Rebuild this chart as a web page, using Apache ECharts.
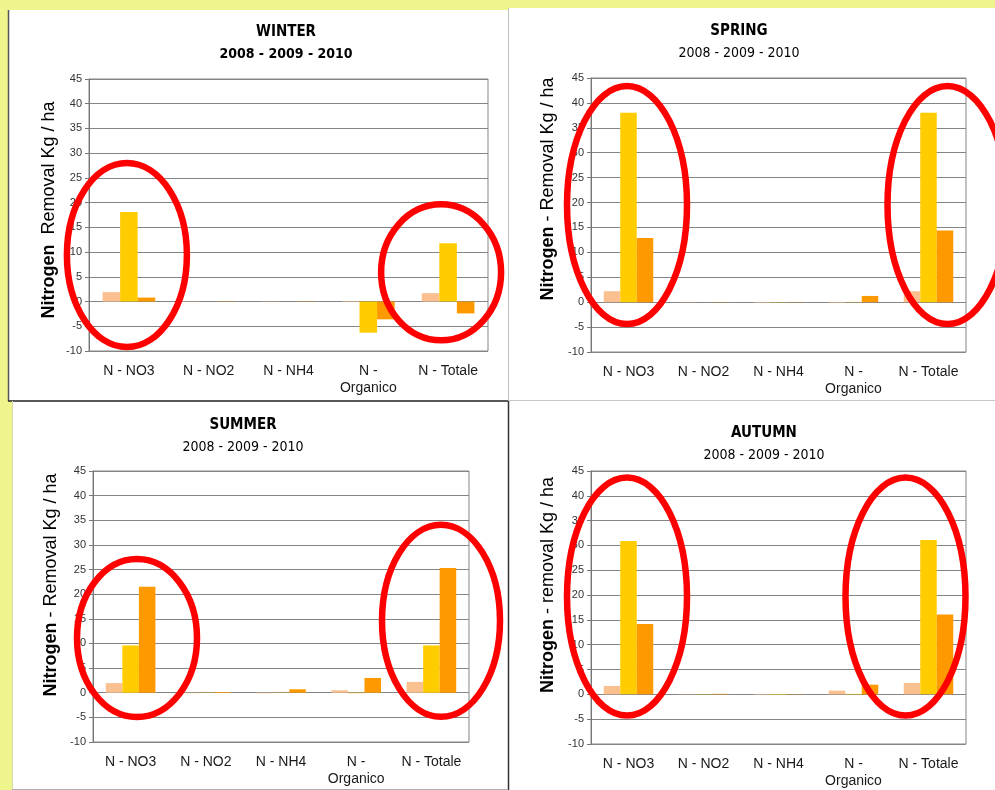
<!DOCTYPE html>
<html>
<head>
<meta charset="utf-8">
<script src="https://cdn.jsdelivr.net/npm/echarts@6/dist/echarts.min.js"></script>
<style>
  html, body { margin: 0; padding: 0; background: #eef58c; }
  #chart { width: 995px; height: 790px; }
</style>
</head>
<body>
<div id="chart"></div>
<script>
// Nitrogen removal (Kg / ha) per nitrogen form, by season, for 2008, 2009 and 2010
const categories = ['N - NO3', 'N - NO2', 'N - NH4', 'N -\nOrganico', 'N - Totale'];
const years = ['2008', '2009', '2010'];

const winter2008 = [1.9, 0.05, -0.05, -0.1, 1.7];
const winter2009 = [18.1, 0.0, 0.0, -6.3, 11.8];
const winter2010 = [0.8, -0.05, 0.05, -3.6, -2.4];

const spring2008 = [2.2, 0.05, -0.1, -0.1, 2.2];
const spring2009 = [38.0, 0.0, -0.05, 0.05, 38.0];
const spring2010 = [12.9, 0.05, 0.05, 1.25, 14.4];

const summer2008 = [1.95, -0.1, -0.1, 0.5, 2.2];
const summer2009 = [9.6, -0.05, -0.05, -0.1, 9.6];
const summer2010 = [21.5, 0.15, 0.7, 3.0, 25.3];

const autumn2008 = [1.7, 0.05, -0.1, 0.75, 2.3];
const autumn2009 = [30.9, 0.05, -0.1, 0.1, 31.1];
const autumn2010 = [14.2, 0.1, -0.05, 1.95, 16.1];

const seasonNames = ['WINTER', 'SPRING', 'SUMMER', 'AUTUMN'];
const periodLabel = '2008 - 2009 - 2010';
const axisMin = -10, axisMax = 45, axisStep = 5;

// ---- layout and styling ----
const barColors = ['#fac08f', '#ffcc00', '#ff9900'];
const sansFont = '"Liberation Sans", Arial, sans-serif';
const titleFont = '"DejaVu Sans Condensed", "DejaVu Sans", sans-serif';

const panels = [
  { name: seasonNames[0], series: [winter2008, winter2009, winter2010],
    grid: { left: 89, top: 79, width: 399, height: 272 },
    titleX: 286, titleTop: 25, subBold: true,
    yName: ['Nitrogen', '  Removal Kg / ha'], nameX: 49, nameY: 210,
    rings: [ { cat: 0, value: 9.4, dx: -2, rx: 60, ry: 92 },
             { cat: 4, value: 5.9, dx: -7, rx: 60, ry: 68 } ] },
  { name: seasonNames[1], series: [spring2008, spring2009, spring2010],
    grid: { left: 591, top: 78, width: 375, height: 274 },
    titleX: 739, titleTop: 24, subBold: false,
    yName: ['Nitrogen', ' - Removal Kg / ha'], nameX: 548, nameY: 189,
    rings: [ { cat: 0, value: 19.5, dx: -1.5, rx: 60, ry: 119 },
             { cat: 4, value: 19.5, dx: 19, rx: 60, ry: 119 } ] },
  { name: seasonNames[2], series: [summer2008, summer2009, summer2010],
    grid: { left: 93, top: 471, width: 376, height: 271 },
    titleX: 243, titleTop: 418, subBold: false,
    yName: ['Nitrogen', ' - Removal Kg / ha'], nameX: 51, nameY: 585,
    rings: [ { cat: 0, value: 11.1, dx: 6.4, rx: 60, ry: 79 },
             { cat: 4, value: 14.6, dx: 9.6, rx: 59, ry: 96 } ] },
  { name: seasonNames[3], series: [autumn2008, autumn2009, autumn2010],
    grid: { left: 591, top: 471, width: 375, height: 276 },
    titleX: 764, titleTop: 426, subBold: false,
    yName: ['Nitrogen', ' - removal Kg / ha'], nameX: 548, nameY: 585,
    rings: [ { cat: 0, value: 19.7, dx: -1.5, rx: 60, ry: 119 },
             { cat: 4, value: 19.7, dx: -23, rx: 60, ry: 119 } ] }
];

const chart = echarts.init(document.getElementById('chart'), null, { renderer: 'canvas' });

const grids = [], xAxes = [], yAxes = [], series = [], titles = [];
const graphics = [
  // page sheets behind the four charts
  { id: 'sheetTL', type: 'rect', z: -10, shape: { x: 8, y: 10, width: 500, height: 391 },
    style: { fill: '#ffffff' } },
  { id: 'sheetTR', type: 'rect', z: -10, shape: { x: 508, y: 8, width: 487, height: 393 },
    style: { fill: '#ffffff' } },
  { id: 'sheetBL', type: 'rect', z: -10, shape: { x: 12, y: 401, width: 496, height: 389 },
    style: { fill: '#ffffff' } },
  { id: 'sheetBR', type: 'rect', z: -10, shape: { x: 508, y: 401, width: 487, height: 389 },
    style: { fill: '#ffffff' } },
  { id: 'edgeL', type: 'line', z: -9, shape: { x1: 8.5, y1: 10, x2: 8.5, y2: 401 },
    style: { stroke: '#555555', lineWidth: 1.5 } },
  { id: 'edgeMid', type: 'line', z: -9, shape: { x1: 8, y1: 401, x2: 508, y2: 401 },
    style: { stroke: '#222222', lineWidth: 1.5 } },
  { id: 'edgeMidR', type: 'line', z: -9, shape: { x1: 508, y1: 400.5, x2: 995, y2: 400.5 },
    style: { stroke: '#c8c8c8', lineWidth: 1 } },
  { id: 'edgeV1', type: 'line', z: -9, shape: { x1: 508.5, y1: 8, x2: 508.5, y2: 401 },
    style: { stroke: '#c0c0c0', lineWidth: 1 } },
  { id: 'edgeV2', type: 'line', z: -9, shape: { x1: 508.5, y1: 401, x2: 508.5, y2: 790 },
    style: { stroke: '#333333', lineWidth: 1.5 } },
  { id: 'edgeBL', type: 'line', z: -9, shape: { x1: 12.5, y1: 401, x2: 12.5, y2: 790 },
    style: { stroke: '#d8d8b0', lineWidth: 1 } },
  { id: 'edgeBottom', type: 'line', z: -9, shape: { x1: 12, y1: 789.5, x2: 508, y2: 789.5 },
    style: { stroke: '#b0b0b0', lineWidth: 1 } }
];

panels.forEach((p, i) => {
  grids.push(Object.assign({ show: true, borderColor: '#858585', borderWidth: 1,
                             backgroundColor: 'transparent', containLabel: false }, p.grid));
  titles.push({
    text: p.name,
    subtext: periodLabel,
    left: p.titleX, top: p.titleTop, textAlign: 'center',
    padding: 0, itemGap: 7,
    textStyle: { fontFamily: titleFont, fontSize: 15, fontWeight: 'bold', color: '#000' },
    subtextStyle: { fontFamily: titleFont, fontSize: 14,
                    fontWeight: p.subBold ? 'bold' : 'normal', color: '#000' }
  });
  xAxes.push({
    type: 'category', gridIndex: i, data: categories,
    axisLine: { show: false, onZero: false },
    axisTick: { show: false },
    axisLabel: { interval: 0, margin: 12, fontSize: 14, lineHeight: 17,
                 color: '#1a1a1a', fontFamily: sansFont }
  });
  yAxes.push({
    type: 'value', gridIndex: i, min: axisMin, max: axisMax, interval: axisStep,
    axisLine: { show: true, lineStyle: { color: '#777777', width: 1 } },
    axisTick: { show: true, length: 4, lineStyle: { color: '#777777' } },
    axisLabel: { margin: 7, fontSize: 11, color: '#333333', fontFamily: sansFont },
    splitLine: { show: true, lineStyle: { color: '#858585', width: 1 } }
  });
  p.series.forEach((values, k) => {
    series.push({
      type: 'bar', name: years[k], xAxisIndex: i, yAxisIndex: i,
      data: values,
      barGap: '0%', barCategoryGap: '34%',
      itemStyle: { color: barColors[k] },
      emphasis: { disabled: true }
    });
  });
  graphics.push({
    id: 'yname' + i, type: 'text', z: 10,
    x: p.nameX, y: p.nameY, rotation: Math.PI / 2,
    style: {
      text: '{b|' + p.yName[0] + '}{n|' + p.yName[1] + '}',
      align: 'center', verticalAlign: 'middle',
      fontFamily: sansFont, fontSize: 18, fill: '#000',
      rich: {
        b: { fontFamily: sansFont, fontSize: 18, fontWeight: 'bold', fill: '#000' },
        n: { fontFamily: sansFont, fontSize: 18, fontWeight: 'normal', fill: '#000' }
      }
    }
  });
});

chart.setOption({
  animation: false,
  backgroundColor: '#eef58c',
  title: titles,
  grid: grids,
  xAxis: xAxes,
  yAxis: yAxes,
  series: series,
  graphic: { elements: graphics }
});

// red highlight rings anchored to the category / value coordinates of each chart
const rings = [];
panels.forEach((p, i) => {
  p.rings.forEach((r, j) => {
    const c = chart.convertToPixel({ gridIndex: i }, [categories[r.cat], r.value]);
    rings.push({
      id: 'ring' + i + '_' + j, type: 'ellipse', z: 100,
      shape: { cx: c[0] + r.dx, cy: c[1], rx: r.rx, ry: r.ry },
      style: { fill: 'none', stroke: '#ff0000', lineWidth: 6.5 }
    });
  });
});
chart.setOption({ graphic: { elements: rings } });
</script>
</body>
</html>
